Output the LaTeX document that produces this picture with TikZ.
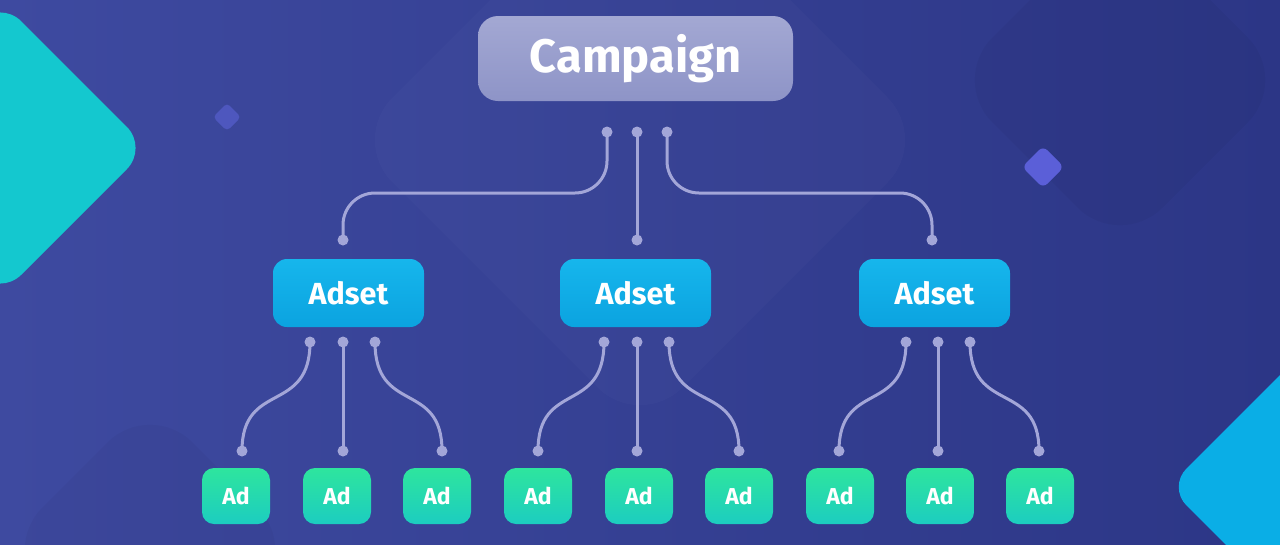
\documentclass[tikz,border=0pt]{standalone}
\usepackage{fontspec}
\setmainfont{Fira Sans}
\definecolor{bgl}{HTML}{3E4AA0}
\definecolor{bgr}{HTML}{2C3686}
\definecolor{tealbig}{HTML}{14C8CF}
\definecolor{bluebig}{HTML}{0AAEE6}
\definecolor{wirec}{HTML}{A3A6D8}
\definecolor{camptop}{HTML}{A3A8D3}
\definecolor{campbot}{HTML}{8E94C7}
\definecolor{adsettop}{HTML}{16B6EC}
\definecolor{adsetbot}{HTML}{0BA3E0}
\definecolor{adtop}{HTML}{2EE59E}
\definecolor{adbot}{HTML}{1CCDC0}
\definecolor{smallA}{HTML}{4E57BE}
\definecolor{smallB}{HTML}{5B5FD8}
\tikzset{
  wire/.style={draw=wirec, line width=3pt, line cap=round},
  dotnode/.style={circle, fill=wirec, inner sep=0pt, minimum size=11pt},
  campbox/.style={rounded corners=20pt, top color=camptop, bottom color=campbot,
    minimum width=315pt, minimum height=85pt, text=white,
    font=\fontsize{47}{50}\selectfont\bfseries},
  adsetbox/.style={rounded corners=14pt, top color=adsettop, bottom color=adsetbot,
    minimum width=151pt, minimum height=68pt, text=white,
    font=\fontsize{30.5}{34}\selectfont\bfseries},
  adbox/.style={rounded corners=12pt, top color=adtop, bottom color=adbot,
    minimum width=68pt, minimum height=56pt, text=white,
    font=\fontsize{23}{26}\selectfont\bfseries},
}
\begin{document}
\begin{tikzpicture}[x=1pt,y=-1pt]
\useasboundingbox (0,0) rectangle (1280,544);
% background
\shade[left color=bgl, right color=bgr] (0,0) rectangle (1280,544);
% faint background shapes
\fill[white, opacity=0.018, rounded corners=60pt] (640,-150) -- (930,140) -- (640,430) -- (350,140) -- cycle;
\fill[black, opacity=0.035, rounded corners=60pt] (1120,-90) -- (1290,80) -- (1120,250) -- (950,80) -- cycle;
\fill[black, opacity=0.03, rounded corners=60pt] (150,400) -- (300,550) -- (150,700) -- (0,550) -- cycle;
% big decorative diamonds
\fill[tealbig, rounded corners=30pt] (0,0) -- (148,148) -- (0,296) -- (-148,148) -- cycle;
\fill[bluebig, rounded corners=26pt] (1318,337) -- (1468,487) -- (1318,637) -- (1168,487) -- cycle;
% small diamonds
\fill[smallA, rounded corners=4pt] (227,103) -- (241,117) -- (227,131) -- (213,117) -- cycle;
\fill[smallB, rounded corners=6pt] (1043,146) -- (1064,167) -- (1043,188) -- (1022,167) -- cycle;

% campaign level
\node[campbox] (camp) at (635.5,58.5) {Campaign};
\node[dotnode] (cd1) at (607,132) {};
\node[dotnode] (cd2) at (637,132) {};
\node[dotnode] (cd3) at (667,132) {};
\node[dotnode] (at1) at (343,240) {};
\node[dotnode] (at2) at (637,240) {};
\node[dotnode] (at3) at (932,240) {};
\draw[wire, rounded corners=32pt] (cd1.center) -- (607,193) -- (343,193) -- (at1.center);
\draw[wire] (cd2.center) -- (at2.center);
\draw[wire, rounded corners=32pt] (cd3.center) -- (667,193) -- (932,193) -- (at3.center);

% adset level
\node[adsetbox] (as1) at (348.5,293) {Adset};
\node[adsetbox] (as2) at (635.5,293) {Adset};
\node[adsetbox] (as3) at (934.5,293) {Adset};

\foreach \i/\l/\m/\r/\bl/\bm/\br in {1/310/343/375/242/343/442, 2/604/637/669/538/637/739, 3/906/938/970/839/938/1039}{
  \node[dotnode] (t\i a) at (\l,342) {};
  \node[dotnode] (t\i b) at (\m,342) {};
  \node[dotnode] (t\i c) at (\r,342) {};
  \node[dotnode] (b\i a) at (\bl,451) {};
  \node[dotnode] (b\i b) at (\bm,451) {};
  \node[dotnode] (b\i c) at (\br,451) {};
  \draw[wire] (t\i a.center) .. controls (\l,415) and (\bl,380) .. (b\i a.center);
  \draw[wire] (t\i b.center) -- (b\i b.center);
  \draw[wire] (t\i c.center) .. controls (\r,415) and (\br,380) .. (b\i c.center);
}

% ad level
\foreach \x [count=\k] in {236,337,437,538,639,739,840,940,1040}{
  \node[adbox] (ad\k) at (\x,496) {Ad};
}
\end{tikzpicture}
\end{document}
